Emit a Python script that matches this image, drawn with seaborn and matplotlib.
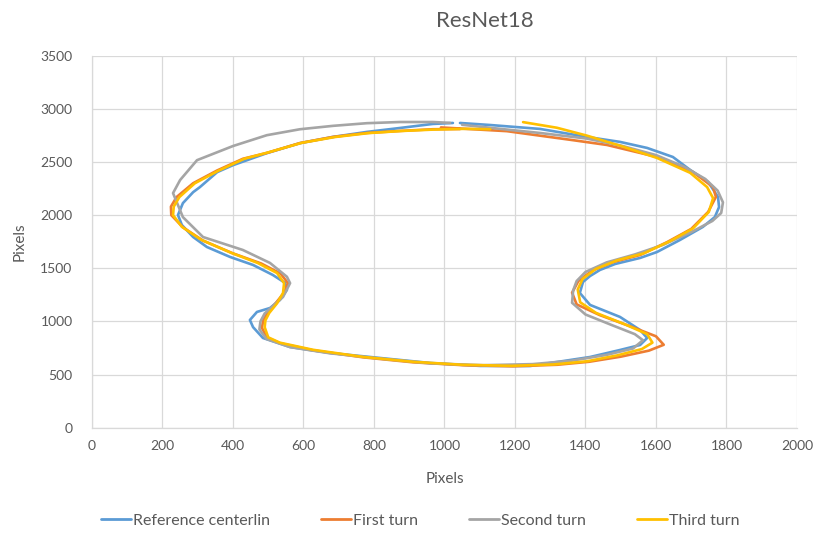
import matplotlib
matplotlib.use("Agg")
import matplotlib.pyplot as plt
from matplotlib.lines import Line2D
import pandas as pd
import seaborn as sns

# Series labels and colours
series_names = ["Reference centerlin", "First turn", "Second turn", "Third turn"]
series_colors = ["#5B9BD5", "#ED7D31", "#A5A5A5", "#FFC000"]

# Axis ticks
x_ticks = [0, 200, 400, 600, 800, 1000, 1200, 1400, 1600, 1800, 2000]
y_ticks = [0, 500, 1000, 1500, 2000, 2500, 3000, 3500]

# Reference centerline (pixel coordinates, traced clockwise)
ref_x = [1044, 1129, 1271, 1404, 1498, 1575, 1648, 1697, 1748, 1776, 1779, 1767, 1733,
         1668, 1603, 1555, 1484, 1441, 1413, 1393, 1384, 1413, 1498, 1555, 1575, 1555,
         1498, 1413, 1319, 1243, 1101, 959, 817, 675, 562, 485, 457, 448, 468, 505, 533,
         553, 548, 513, 457, 392, 326, 287, 255, 244, 258, 287, 306, 355, 400, 496, 590,
         684, 780, 874, 967, 1024]
ref_y = [2867, 2848, 2811, 2736, 2689, 2632, 2547, 2425, 2312, 2171, 2076, 1982, 1889,
         1766, 1653, 1597, 1540, 1484, 1427, 1371, 1268, 1155, 1042, 919, 844, 778,
         731, 665, 618, 580, 581, 609, 656, 703, 759, 844, 946, 1013, 1089, 1126, 1201,
         1296, 1362, 1437, 1531, 1606, 1700, 1794, 1907, 2001, 2113, 2216, 2263, 2404,
         2470, 2583, 2677, 2736, 2783, 2820, 2858, 2867]

# First turn
first_x = [990, 1177, 1365, 1461, 1603, 1705, 1762, 1770, 1748, 1700, 1631, 1555, 1480,
           1420, 1380, 1362, 1375, 1440, 1530, 1600, 1622, 1580, 1500, 1410, 1320, 1194,
           1053, 911, 769, 627, 533, 496, 482, 486, 498, 522, 545, 556, 535, 480, 400,
           315, 258, 225, 224, 240, 287, 355, 428, 496, 590, 684, 780, 874, 967, 1044]
first_y = [2825, 2790, 2705, 2660, 2547, 2405, 2264, 2171, 2030, 1870, 1745, 1625, 1560,
           1480, 1380, 1270, 1160, 1060, 950, 860, 780, 725, 668, 620, 592, 578,
           588, 615, 662, 728, 795, 850, 940, 1010, 1080, 1175, 1270, 1360, 1450, 1545,
           1640, 1760, 1885, 2000, 2080, 2170, 2300, 2420, 2530, 2585, 2678, 2736, 2773,
           2792, 2808, 2810]

# Second turn
second_x = [1050, 1177, 1271, 1404, 1500, 1600, 1680, 1740, 1775, 1790, 1785, 1760, 1700,
            1620, 1540, 1460, 1400, 1375, 1365, 1362, 1400, 1475, 1540, 1563, 1535, 1460,
            1360, 1250, 1110, 960, 817, 675, 562, 495, 475, 478, 490, 512, 542, 562, 553,
            505, 428, 315, 258, 244, 230, 250, 298, 400, 496, 590, 684, 780, 874, 967, 1016]
second_y = [2850, 2805, 2773, 2720, 2655, 2565, 2455, 2340, 2230, 2120, 2020, 1945, 1840,
            1720, 1630, 1555, 1465, 1380, 1290, 1175, 1065, 965, 880, 823, 745, 685,
            630, 598, 588, 605, 650, 700, 758, 835, 925, 1000, 1075, 1140, 1230, 1360, 1420,
            1550, 1672, 1794, 1981, 2094, 2207, 2330, 2517, 2650, 2752, 2808, 2840, 2865,
            2876, 2876, 2868]

# Third turn
third_x = [1223, 1319, 1404, 1506, 1603, 1697, 1745, 1762, 1750, 1705, 1640, 1565, 1490,
           1430, 1392, 1378, 1385, 1430, 1510, 1575, 1590, 1560, 1490, 1405, 1310, 1190,
           1050, 911, 769, 627, 533, 500, 490, 492, 503, 525, 542, 545, 525, 470, 395,
           310, 255, 230, 232, 248, 292, 360, 432, 500, 595, 690, 785, 880, 970, 1060, 1130]
third_y = [2875, 2822, 2748, 2645, 2538, 2398, 2264, 2160, 2030, 1875, 1755, 1640, 1575,
           1495, 1400, 1300, 1180, 1080, 975, 880, 800, 740, 680, 625, 595, 582,
           592, 620, 666, 733, 800, 850, 945, 1010, 1080, 1170, 1268, 1360, 1455, 1550,
           1645, 1768, 1890, 2000, 2080, 2170, 2300, 2420, 2530, 2590, 2680, 2735, 2772,
           2792, 2805, 2812, 2808]

all_x = [ref_x, first_x, second_x, third_x]
all_y = [ref_y, first_y, second_y, third_y]

frames = []
for name, xs, ys in zip(series_names, all_x, all_y):
    frames.append(pd.DataFrame({"x": xs, "y": ys, "series": name,
                                "step": range(len(xs))}))
df = pd.concat(frames, ignore_index=True)

sns.set_style("white")
plt.rcParams["font.family"] = ["Lato", "DejaVu Sans"]
text_color = "#595959"
grid_color = "#D9D9D9"

fig = plt.figure(figsize=(8.19, 5.33), dpi=100)
ax = fig.add_axes([0.1123, 0.1976, 0.8608, 0.6979])

sns.lineplot(data=df, x="x", y="y", hue="series", hue_order=series_names,
             palette=series_colors, sort=False, estimator=None, linewidth=1.9,
             legend=False, ax=ax)

ax.set_xlim(0, 2000)
ax.set_ylim(0, 3500)
ax.set_xticks(x_ticks)
ax.set_yticks(y_ticks)
ax.set_xticklabels([str(v) for v in x_ticks])
ax.set_yticklabels([str(v) for v in y_ticks])
ax.grid(True, color=grid_color, linewidth=0.9)
ax.set_axisbelow(True)
for side in ["top", "right"]:
    ax.spines[side].set_visible(False)
for side in ["left", "bottom"]:
    ax.spines[side].set_color(grid_color)
    ax.spines[side].set_linewidth(0.9)
ax.tick_params(axis="both", length=0, colors=text_color, labelsize=10)
ax.tick_params(axis="x", pad=9)
ax.tick_params(axis="y", pad=14)

ax.set_xlabel("Pixels", color=text_color, fontsize=11, labelpad=14)
ax.set_ylabel("Pixels", color=text_color, fontsize=11, labelpad=10)

fig.text(0.592, 0.961, "ResNet18", ha="center", va="center",
         color=text_color, fontsize=16)

handles = [Line2D([0], [0], color=c, linewidth=2) for c in series_colors]
fig.legend(handles, series_names, loc="center", bbox_to_anchor=(0.513, 0.023),
           ncol=4, frameon=False, fontsize=11.5, handlelength=1.9,
           handletextpad=0.1, columnspacing=3.2, labelcolor=text_color)

fig.savefig("out.png", dpi=100)
